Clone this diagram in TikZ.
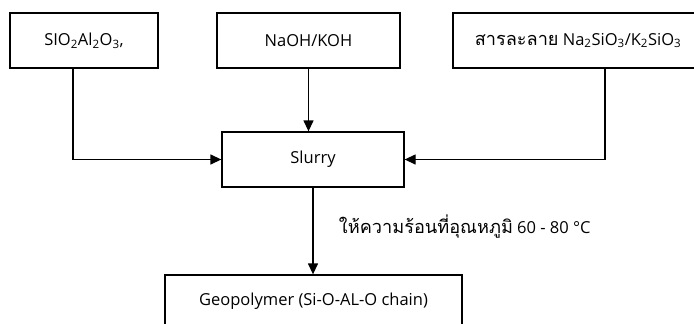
\documentclass[tikz,border=0pt]{standalone}
\usepackage{fontspec}
\setmainfont{Open Sans}
\newfontfamily\thaifont[Script=Thai,Scale=1.1]{Loma}
\usetikzlibrary{arrows.meta}

\begin{document}
\begin{tikzpicture}[x=1pt,y=-1pt]
		\tikzset{flowbox/.style={draw,line width=1.3pt,minimum height=55pt,inner sep=0pt,font=\fontsize{16.5}{19}\selectfont},
			flowarrow/.style={line width=1.3pt,-{Triangle[length=11pt,width=10pt]}}};
		\useasboundingbox (0,0) rectangle (694,324);
		\clip (0,0) rectangle (694,324);
		\node[flowbox,minimum width=148pt] (raw) at (84,40.5) {SIO\textsubscript{2}Al\textsubscript{2}O\textsubscript{3},};
		\node[flowbox,minimum width=183pt] (alkali) at (308.5,40.5) {NaOH/KOH};
		\node[flowbox,minimum width=250pt] (silicate) at (578,40.5) {{\thaifont สารละลาย} Na\textsubscript{2}SiO\textsubscript{3}/K\textsubscript{2}SiO\textsubscript{3}};
		\node[flowbox,minimum width=182pt] (slurry) at (313,159.5) {Slurry};
		\node[flowbox,minimum width=297pt,text depth=0pt] (geo) at (313.5,302.5) {\raisebox{6pt}{Geopolymer (Si-O-AL-O chain)}};
		\coordinate (rawout) at (73,68);
		\coordinate (silout) at (605,68);
		
		\draw[flowarrow] (rawout) |- (slurry.west);
		\draw[flowarrow] (alkali.south) -- (alkali.south |- slurry.north);
		\draw[flowarrow] (silout) |- (slurry.east);
		\draw[flowarrow] (slurry.south) -- (slurry.south |- geo.north) node[pos=0.45,right=22pt,font=\fontsize{16.5}{19}\selectfont] (heat) {{\thaifont ให้ความร้อนที่อุณหภูมิ} 60 - 80 °C};
	\end{tikzpicture}
\end{document}
